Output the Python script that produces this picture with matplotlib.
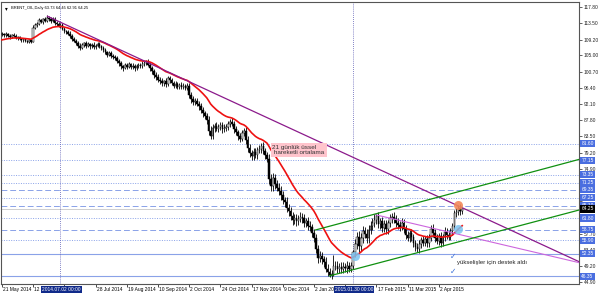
import numpy as np
import pandas as pd
import matplotlib
matplotlib.use("Agg")
import matplotlib.pyplot as plt
from matplotlib.transforms import blended_transform_factory

# daily closes, 21 May 2014 -> mid Apr 2015 (one value per bar)
closes = [
    110.6, 110.4, 110.7, 110.2, 110.0, 110.5, 110.3, 109.7, 109.8, 109.4, 109.1, 109.3, 108.8, 108.6, 109.0, 108.7,
    112.4,
    113.0, 113.4, 114.3, 113.9, 114.6, 114.2,
    115.0,
    114.6, 114.1, 114.8, 113.6, 113.3,
    112.9, 113.1, 112.0, 111.4, 111.2,
    110.8, 110.2, 109.5, 108.9, 108.3, 107.6,
    107.0, 107.8, 108.3, 107.6, 108.0, 107.4,
    107.9, 107.2, 107.6, 108.1, 107.5,
    106.9, 106.4, 105.9, 105.2, 105.6, 104.9, 104.6, 104.3,
    103.6, 102.9, 102.1, 101.8,
    102.4, 102.0, 102.7, 101.9, 102.3, 101.6, 102.1, 102.5, 102.2, 102.8,
    103.0, 103.4, 102.6,
    101.6, 100.8, 99.9, 99.3, 98.6,
    98.2, 97.6, 98.1, 97.3, 98.9, 98.4,
    97.6, 97.0, 97.4, 96.7, 97.2, 96.6, 97.0, 96.4, 96.9,
    94.6, 93.4, 92.6,
    92.9, 92.2, 91.5, 90.5,
    89.6, 88.9, 87.9,
    85.0, 83.6,
    85.8, 86.2, 85.6, 86.0, 86.5, 85.4, 85.8, 86.1,
    86.8, 87.4, 86.9,
    85.4, 84.6, 83.5, 82.9,
    84.4, 84.9,
    82.6, 80.4, 79.0, 78.2,
    79.4, 78.6, 79.8, 80.1, 80.9, 79.6, 78.5,
    77.6, 72.2, 70.2,
    72.4, 70.8, 69.9, 69.1,
    67.9, 66.5, 66.1, 64.5,
    63.6, 62.3, 61.2,
    61.9, 60.9, 61.6, 62.2, 61.7, 60.5, 61.0,
    59.8, 59.4, 57.9, 56.4,
    53.6, 51.2, 51.7, 50.8, 50.1, 48.4,
    47.4, 46.6, 46.9,
    49.2,
    49.0, 48.3, 48.8, 48.2, 48.9, 48.5, 49.1, 48.4, 49.0,
    52.7,
    54.8, 56.9, 54.3,
    56.6, 58.3, 57.6, 56.4,
    58.7, 59.6, 60.6, 61.4, 62.3,
    60.2, 60.9, 59.1, 60.1, 58.8,
    60.4, 61.8, 62.2, 61.5, 60.6,
    60.0, 59.5, 60.6, 59.0,
    57.4, 56.6, 57.8, 56.7,
    55.2, 54.1, 53.6,
    55.0, 55.9, 55.3, 56.3, 55.1,
    56.6, 59.0, 57.8,
    56.4, 55.8, 57.0, 55.2, 56.7,
    58.2, 57.3, 56.9, 58.4, 59.6,
    63.1, 63.5, 64.6, 63.73, 64.25,
]
first_open = 110.8
ema_seed = 109.0  # value of the 21-day EMA just before the first visible bar

up_wick = [
    0.4, 0.3, 0.5, 0.3, 0.4, 0.3, 0.5, 0.4, 0.3, 0.5, 0.3, 0.4, 0.4, 0.3, 0.5, 0.4,
    0.6,
    0.5, 0.4, 0.6, 0.5, 0.4, 0.6,
    0.7,
    0.5, 0.6, 0.4, 0.5, 0.6,
    0.5, 0.4, 0.6, 0.5, 0.4,
    0.5, 0.6, 0.4, 0.5, 0.6, 0.5,
    0.6, 0.5, 0.4, 0.6, 0.5, 0.4,
    0.5, 0.6, 0.4, 0.5, 0.6,
    0.4, 0.5, 0.6, 0.4, 0.5, 0.6, 0.4, 0.5,
    0.6, 0.5, 0.7, 0.5,
    0.6, 0.5, 0.7, 0.4, 0.6, 0.5, 0.7, 0.6, 0.5, 0.7,
    0.6, 0.5, 0.7,
    0.6, 0.7, 0.5, 0.6, 0.8,
    0.6, 0.7, 0.5, 0.8, 0.6, 0.7,
    0.6, 0.5, 0.7, 0.6, 0.5, 0.7, 0.6, 0.5, 0.7,
    0.8, 0.7, 0.9,
    0.7, 0.8, 0.6, 0.9,
    0.8, 0.7, 0.9,
    1.0, 1.2,
    0.9, 0.8, 1.0, 0.7, 0.9, 0.8, 1.0, 0.7,
    0.9, 0.8, 1.0,
    0.8, 0.9, 0.7, 1.0,
    0.9, 0.8,
    1.0, 0.9, 1.1, 0.8,
    0.9, 1.0, 0.8, 1.1, 0.9, 1.0, 0.8,
    0.9, 1.2, 1.4,
    1.5, 1.2, 1.0, 1.3,
    1.1, 1.2, 1.0, 1.3,
    1.1, 1.2, 1.0,
    1.0, 1.1, 0.9, 1.2, 1.0, 1.1, 0.9,
    1.0, 1.2, 0.9, 1.1,
    1.3, 1.1, 1.4, 1.2, 1.0, 1.3,
    1.1, 1.2, 1.0,
    2.8,
    1.2, 1.4, 1.1, 1.3, 1.2, 1.0, 1.3, 1.1, 1.2,
    0.5,
    1.4, 1.2, 1.6,
    1.3, 1.5, 1.2, 1.4,
    1.2, 1.3, 1.1, 1.4, 0.7,
    1.2, 1.0, 1.3, 1.1, 1.2,
    1.0, 1.2, 0.9, 1.1, 1.0,
    1.1, 0.9, 1.2, 1.0,
    1.0, 1.1, 0.9, 1.2,
    1.0, 0.9, 1.1,
    1.0, 0.9, 1.1, 0.8, 1.0,
    0.9, 1.0, 1.1,
    1.0, 1.1, 0.9, 1.2, 1.0,
    1.1, 0.9, 1.0, 0.8, 1.0,
    0.9, 1.0, 0.7, 0.9, 0.2,
]
dn_wick = [
    0.3, 0.5, 0.4, 0.3, 0.5, 0.4, 0.3, 0.4, 0.5, 0.3, 0.4, 0.5, 0.3, 0.4, 0.3, 0.5,
    0.2,
    0.4, 0.5, 0.3, 0.4, 0.5, 0.3,
    0.4,
    0.5, 0.4, 0.3, 0.5, 0.4,
    0.4, 0.5, 0.3, 0.4, 0.6,
    0.4, 0.5, 0.6, 0.4, 0.5, 0.6,
    0.5, 0.4, 0.6, 0.5, 0.4, 0.6,
    0.4, 0.5, 0.6, 0.4, 0.5,
    0.5, 0.4, 0.6, 0.5, 0.4, 0.5, 0.6, 0.4,
    0.5, 0.7, 0.6, 0.8,
    0.5, 0.7, 0.4, 0.6, 0.5, 0.7, 0.5, 0.4, 0.6, 0.5,
    0.5, 0.6, 0.4,
    0.7, 0.6, 0.8, 0.7, 0.6,
    0.7, 0.8, 0.6, 0.7, 0.5, 0.6,
    0.5, 0.7, 0.6, 0.5, 0.7, 0.6, 0.5, 0.6, 0.5,
    0.8, 0.9, 0.7,
    0.8, 0.7, 0.9, 0.8,
    0.9, 0.8, 1.0,
    1.2, 0.8,
    0.8, 1.0, 0.7, 0.9, 0.8, 1.0, 0.8, 0.9,
    0.8, 0.9, 0.7,
    0.9, 0.8, 1.0, 0.8,
    0.7, 0.9,
    1.0, 1.1, 0.9, 1.0,
    1.0, 0.9, 1.1, 0.8, 1.0, 0.9, 1.1,
    1.0, 1.3, 1.2,
    1.1, 1.3, 1.0, 1.2,
    1.2, 1.0, 1.3, 1.1,
    1.2, 1.0, 1.3,
    0.9, 1.1, 1.0, 0.9, 1.2, 1.0, 1.1,
    1.1, 0.9, 1.2, 1.0,
    1.2, 1.4, 1.1, 1.3, 1.2, 1.0,
    1.1, 0.4, 1.0,
    0.6,
    1.1, 1.0, 1.2, 0.9, 1.1, 1.0, 1.2, 0.9, 1.0,
    0.7,
    1.3, 1.1, 1.5,
    1.2, 1.4, 1.1, 1.3,
    1.1, 1.2, 1.0, 1.3, 1.1,
    1.0, 1.2, 1.1, 1.0, 1.2,
    1.1, 1.0, 1.2, 0.9, 1.1,
    1.0, 1.1, 0.9, 1.2,
    1.1, 1.0, 1.2, 0.9,
    1.1, 1.0, 0.9,
    1.0, 1.1, 0.9, 1.0, 1.1,
    1.0, 0.9, 1.1,
    1.0, 0.9, 1.1, 1.0, 0.9,
    1.0, 1.1, 0.9, 1.0, 1.1,
    0.8, 1.0, 0.9, 1.0, 0.82,
]

# price axis (labels hidden behind level boxes are left blank)
y_ticks = [117.80, 113.50, 109.20, 105.00, 100.70, 96.40, 92.10, 87.80, 83.50,
           79.20, 74.90, 70.60, 66.30, 62.00, 57.70, 53.40, 49.20, 44.90]
y_hidden = [70.60, 66.30, 62.00]
# date axis (bar index -> label)
date_idx = [0, 16, 32, 48, 64, 80, 96, 112, 128, 144, 160, 176, 192, 208, 224]
date_labels = ["21 May 2014", "12 J", "", "28 Jul 2014", "19 Aug 2014",
               "10 Sep 2014", "2 Oct 2014", "24 Oct 2014", "17 Nov 2014", "9 Dec 2014",
               "2 Jan 201", "", "17 Feb 2015", "11 Mar 2015", "2 Apr 2015"]

# horizontal levels drawn on the chart
levels = [81.60, 77.15, 73.35, 71.25, 69.35, 67.25, 65.10, 61.80, 58.75, 55.90, 52.35, 46.35]
level_kind = ["dot", "dot", "dot", "dot", "dash", "dot", "dash", "dot", "dash", "dot", "solid", "solid"]
last_price = 64.25

# trend lines: (bar index, price) anchors
purple_line = [(23, 115.5), (296, 50.2)]
orchid_line = [(191, 62.75), (296, 49.95)]
green_upper = [(160.5, 58.6), (296, 77.4)]
green_lower = [(167.7, 46.4), (296, 63.95)]

# crosshair dates
cross_idx = [30, 180]
cross_labels = ["2014.07.02 00:00", "2015.01.30 00:00"]

# marked points
blue_marks = [(181, 51.7), (234, 58.8)]
orange_marks = [(234, 65.3)]

closes = np.array(closes)
opens = np.concatenate([[first_open], closes[:-1]])
highs = np.maximum(opens, closes) + np.array(up_wick)
lows = np.minimum(opens, closes) - np.array(dn_wick)
idx = np.arange(len(closes))
ema = pd.Series(np.concatenate([[ema_seed], closes])).ewm(span=21, adjust=False).mean().values[1:]

FONT = "Liberation Sans"
FS = 3.5

fig = plt.figure(figsize=(6, 2.93), dpi=100)
ax = fig.add_axes([1/600, 9.5/293, 578/600, 281.5/293])
ax.set_xlim(-0.5, 295.9)
ax.set_ylim(44.42, 119.21)

lvl_color = "#8aa2e8"
for p, k in zip(levels, level_kind):
    if k == "dot":
        ax.axhline(p, color=lvl_color, lw=0.7, ls=(0, (1, 1.5)), zorder=1)
    elif k == "dash":
        ax.axhline(p, color=lvl_color, lw=0.7, ls=(0, (6, 3)), zorder=1)
    else:
        ax.axhline(p, color=lvl_color, lw=0.8, zorder=1)
ax.axhline(last_price, color="#cfcfcf", lw=0.7, zorder=1)

for c in cross_idx:
    ax.axvline(c, color="#5a5ab4", lw=0.6, ls=(0, (1, 1.5)), zorder=1)

# candles
ax.vlines(idx, lows, highs, color="black", lw=0.6, zorder=3)
up = closes >= opens
ax.bar(idx[up], (closes - opens)[up], bottom=opens[up], width=0.8,
       color="#e8e8e8", edgecolor="black", linewidth=0.35, zorder=3)
ax.bar(idx[~up], (opens - closes)[~up], bottom=closes[~up], width=0.8,
       color="black", edgecolor="black", linewidth=0.35, zorder=3)

ax.plot(idx, ema, color="#ee1111", lw=1.2, zorder=4)


def ray(anchors, color, lw=0.8):
    (x0, y0), (x1, y1) = anchors
    ax.plot([x0, x1], [y0, y1], color=color, lw=lw, zorder=4, solid_capstyle="butt")


ray(purple_line, "#8b1a8b", 0.9)
ray(orchid_line, "#cc66dd", 0.8)
ray(green_upper, "#109010", 0.9)
ray(green_lower, "#109010", 0.9)

for x, y in blue_marks:
    ax.plot(x, y, "o", ms=6.5, color="#7cc4f0", alpha=0.85, mec="none", zorder=5)
for x, y in orange_marks:
    ax.plot(x, y, "o", ms=6.5, color="#f28a5a", alpha=0.9, mec="none", zorder=5)

# notes
ax.text(138.7, 81.3, "21 günlük üssel\n hareketli ortalama", fontsize=4.6, family=FONT,
        color="#333333", va="top", ha="left", linespacing=1.05, zorder=6,
        bbox=dict(boxstyle="square,pad=0.3", fc="#ffc4cc", ec="none"))
ax.text(231.5, 51.7, "✓", fontsize=5.5, color="#3a6fd8", ha="center", va="center", zorder=6)
ax.text(231.5, 47.5, "✓", fontsize=5.5, color="#3a6fd8", ha="center", va="center", zorder=6)
ax.text(233.5, 49.9, "yükselişler için destek aldı", fontsize=4.3, family=FONT,
        color="#222222", ha="left", va="center", zorder=6)

ax.text(0.007, 0.985, "▾", transform=ax.transAxes, fontsize=4, ha="left", va="top")
ax.text(0.018, 0.985, "BRENT_OIL,Daily 63.73 64.45 62.91 64.25", transform=ax.transAxes,
        fontsize=2.9, family=FONT, ha="left", va="top")

# axes look
for s in ax.spines.values():
    s.set_color("#555555")
    s.set_linewidth(0.8)
ax.yaxis.tick_right()
ax.set_yticks(y_ticks)
ax.set_yticklabels(["" if v in y_hidden else f"{v:.2f}" for v in y_ticks], fontsize=FS, family=FONT)
ax.tick_params(axis="y", length=2, width=0.5, pad=1.5, colors="#222222")
ax.set_xticks(date_idx)
ax.set_xticklabels([])
ax.tick_params(axis="x", length=2.5, width=0.5, direction="out")

tb = blended_transform_factory(ax.transData, ax.transAxes)
for i, lab in zip(date_idx, date_labels):
    if lab:
        ax.text(i + 0.6, -0.012, lab, transform=tb, fontsize=FS, family=FONT,
                ha="left", va="top", clip_on=False)
for i, lab in zip(cross_idx, cross_labels):
    ax.text(i + 0.5, -0.012, lab, transform=tb, fontsize=FS, family=FONT, color="white",
            ha="center", va="top", clip_on=False, zorder=10,
            bbox=dict(boxstyle="square,pad=0.25", fc="#102a8a", ec="none"))

ty = blended_transform_factory(ax.transAxes, ax.transData)
for p in levels:
    ax.text(1.004, p, f"{p:.2f}", transform=ty, fontsize=FS, family=FONT, color="white",
            ha="left", va="center", clip_on=False, zorder=10,
            bbox=dict(boxstyle="square,pad=0.25", fc="#4a6ee0", ec="none"))
ax.text(1.004, last_price, f"{last_price:.2f}", transform=ty, fontsize=FS, family=FONT,
        color="white", ha="left", va="center", clip_on=False, zorder=11,
        bbox=dict(boxstyle="square,pad=0.25", fc="black", ec="none"))

fig.savefig("out.png", dpi=100)
